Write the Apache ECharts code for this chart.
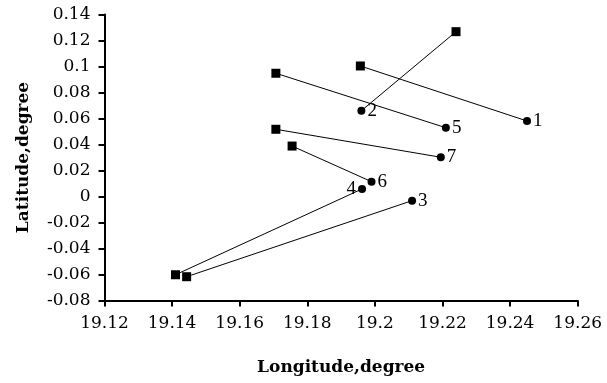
<!DOCTYPE html>
<html>
<head>
<meta charset="utf-8">
<script src="https://cdn.jsdelivr.net/npm/echarts@6/dist/echarts.min.js"></script>
<style>html,body{margin:0;padding:0;background:#fff}#c{width:607px;height:383px}</style>
</head>
<body>
<div id="c"></div>
<script>
// Segment start points (squares) and end points (circles, numbered)
var segLabels = ['1', '2', '3', '4', '5', '6', '7'];
var startLon = [19.1957, 19.224, 19.1443, 19.141, 19.1707, 19.1755, 19.1707];
var startLat = [0.1004, 0.1268, -0.0617, -0.0602, 0.0948, 0.0388, 0.0517];
var endLon = [19.245, 19.196, 19.211, 19.1962, 19.221, 19.199, 19.2195];
var endLat = [0.0581, 0.066, -0.0032, 0.0058, 0.0529, 0.0114, 0.0302];
var labelPos = ['right', 'right', 'right', 'left', 'right', 'right', 'right'];

var xTicks = { min: 19.12, max: 19.26, interval: 0.02 };
var yTicks = { min: -0.08, max: 0.14, interval: 0.02 };

var fmt = function (v) { return String(parseFloat(Number(v).toFixed(2))); };
var serif = '"Liberation Serif", "DejaVu Serif", serif';
var wideSerif = '"DejaVu Serif", "Liberation Serif", serif';

var series = segLabels.map(function (lab, i) {
  return {
    type: 'line',
    silent: true,
    animation: false,
    lineStyle: { color: '#000', width: 1 },
    itemStyle: { color: '#000' },
    data: [
      { value: [startLon[i], startLat[i]], symbol: 'rect', symbolSize: 9, label: { show: false } },
      {
        value: [endLon[i], endLat[i]], symbol: 'circle', symbolSize: 8,
        label: {
          show: true, formatter: lab, position: labelPos[i], distance: 2,
          color: '#000', fontFamily: serif, fontSize: 19
        }
      }
    ]
  };
});

var chart = echarts.init(document.getElementById('c'), null, { renderer: 'canvas' });
chart.setOption({
  animation: false,
  backgroundColor: '#fff',
  grid: { left: 104.5, right: 29.3, top: 14.5, bottom: 82.5 },
  xAxis: {
    type: 'value', min: xTicks.min, max: xTicks.max, interval: xTicks.interval,
    name: 'Longitude,degree', nameLocation: 'middle', nameGap: 59,
    nameTextStyle: { fontFamily: wideSerif, fontWeight: 'bold', fontSize: 17, color: '#000' },
    axisLine: { show: true, onZero: false, lineStyle: { color: '#000', width: 2 } },
    axisTick: { show: true, length: 6, lineStyle: { color: '#000', width: 2 } },
    axisLabel: { formatter: fmt, color: '#000', fontFamily: wideSerif, fontSize: 17, margin: 15 },
    splitLine: { show: false }
  },
  yAxis: {
    type: 'value', min: yTicks.min, max: yTicks.max, interval: yTicks.interval,
    name: 'Latitude,degree', nameLocation: 'middle', nameGap: 72, nameRotate: 90,
    nameTextStyle: { fontFamily: wideSerif, fontWeight: 'bold', fontSize: 17, color: '#000' },
    axisLine: { show: true, onZero: false, lineStyle: { color: '#000', width: 2 } },
    axisTick: { show: true, length: 6, lineStyle: { color: '#000', width: 2 } },
    axisLabel: { formatter: fmt, color: '#000', fontFamily: wideSerif, fontSize: 17, margin: 14 },
    splitLine: { show: false }
  },
  series: series
});
</script>
</body>
</html>
